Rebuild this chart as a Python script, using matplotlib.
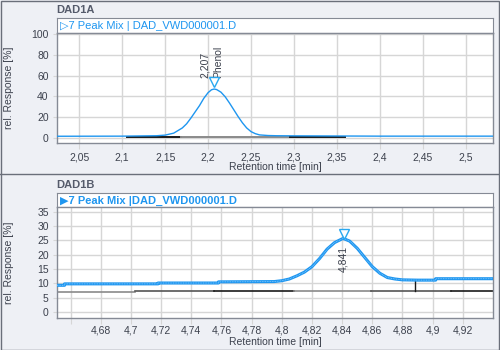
import numpy as np
import matplotlib
matplotlib.use("Agg")
import matplotlib.pyplot as plt
from matplotlib.patches import Rectangle
from matplotlib.lines import Line2D

# DAD1A trace (retention time [min], rel. response [%])
t_a = [2.024, 2.10, 2.14, 2.15, 2.16, 2.17, 2.175, 2.18, 2.185, 2.19, 2.195, 2.20,
       2.204, 2.207, 2.21, 2.215, 2.22, 2.225, 2.23, 2.235, 2.24, 2.245, 2.25,
       2.255, 2.26, 2.27, 2.28, 2.30, 2.40, 2.532]
r_a = [1.5, 1.6, 2.0, 2.6, 4.5, 9.5, 13.5, 19.0, 25.0, 31.0, 38.0, 43.5,
       46.3, 47.0, 46.5, 44.0, 39.5, 33.5, 27.0, 20.5, 14.5, 9.5, 6.0,
       4.0, 2.8, 2.2, 2.0, 1.9, 1.6, 1.6]
# integration baseline pieces: start, end, level, colour
base_a = [(2.105, 2.169, 1.1, "#1a1a1a"),
          (2.169, 2.296, 1.1, "#8a8a8a"),
          (2.296, 2.360, 1.1, "#1a1a1a")]
peak_a = 2.207
peak_a_name = "Phenol"
xticks_a = [2.05, 2.1, 2.15, 2.2, 2.25, 2.3, 2.35, 2.4, 2.45, 2.5]
xlabels_a = ["2,05", "2,1", "2,15", "2,2", "2,25", "2,3", "2,35", "2,4", "2,45", "2,5"]
yticks_a = [0, 20, 40, 60, 80, 100]

# DAD1B trace
t_b = [4.651, 4.656, 4.656, 4.718, 4.718, 4.758, 4.758, 4.795, 4.800, 4.805,
       4.810, 4.815, 4.820, 4.825, 4.830, 4.835, 4.840, 4.841, 4.845, 4.850,
       4.855, 4.860, 4.865, 4.870, 4.875, 4.880, 4.890, 4.902, 4.902, 4.940]
r_b = [9.3, 9.3, 9.8, 9.8, 10.1, 10.1, 10.5, 10.6, 10.9, 11.5,
       12.6, 13.9, 15.8, 18.6, 21.9, 24.2, 25.5, 25.6, 24.7, 22.2,
       19.0, 15.8, 13.5, 12.0, 11.5, 11.2, 11.1, 11.1, 11.6, 11.6]
base_b = [(4.651, 4.703, 7.1, "#8a8a8a"),
          (4.703, 4.755, 7.15, "#555555"),
          (4.755, 4.808, 7.2, "#1a1a1a"),
          (4.808, 4.859, 7.2, "#8a8a8a"),
          (4.859, 4.912, 7.25, "#555555"),
          (4.912, 4.940, 7.3, "#1a1a1a")]
drop_b = (4.888, 7.2, 11.1)
peak_b = 4.841
xticks_b = [4.66, 4.68, 4.7, 4.72, 4.74, 4.76, 4.78, 4.8, 4.82, 4.84, 4.86, 4.88, 4.9, 4.92]
xlabels_b = ["", "4,68", "4,7", "4,72", "4,74", "4,76", "4,78", "4,8", "4,82", "4,84",
             "4,86", "4,88", "4,9", "4,92"]
yticks_b = [0, 5, 10, 15, 20, 25, 30, 35]

W, H = 500, 350
BG = "#eef0f5"
FRAME = "#858a95"
GRID = "#d6d6d6"
TXT = "#3c414d"
BLUE = "#1e96f0"

plt.rcParams["font.family"] = ["Liberation Sans", "DejaVu Sans"]

fig = plt.figure(figsize=(5, 3.5), dpi=100, facecolor=BG)


def box(x0, y0, x1, y1):
    # pixel box (top-left origin) -> figure fraction rect
    return [x0 / W, 1 - y1 / H, (x1 - x0) / W, (y1 - y0) / H]


def style(ax, xticks, xlabels, yticks, xpad):
    ax.set_facecolor("white")
    for s in ax.spines.values():
        s.set_color(FRAME)
        s.set_linewidth(1)
    ax.set_xticks(xticks)
    ax.set_xticklabels(xlabels)
    ax.set_yticks(yticks)
    ax.grid(True, color=GRID, linewidth=1)
    ax.set_axisbelow(True)
    ax.tick_params(axis="x", length=4, color=GRID, labelsize=7.5, labelcolor=TXT, pad=xpad)
    ax.tick_params(axis="y", length=3, color=GRID, labelsize=7.5, labelcolor=TXT, pad=3)
    ax.set_xlabel("Retention time [min]", fontsize=7.5, color=TXT)
    ax.set_ylabel("rel. Response [%]", fontsize=7.5, color=TXT)
    ax.xaxis.set_label_coords(0.5, -0.175)
    ax.yaxis.set_label_coords(-43 / 436, 0.5)


def header(y_top, y_bot, title, text, bold):
    fig.text(56 / W, 1 - (y_top - 8) / H, title, fontsize=8, fontweight="bold",
             color="#555b6b", va="center", ha="left")
    hb = fig.add_axes(box(57, y_top, 493, y_bot))
    hb.set_xticks([])
    hb.set_yticks([])
    hb.set_facecolor("white")
    for s in hb.spines.values():
        s.set_color(FRAME)
    hb.text(0.008, 0.45, text, transform=hb.transAxes, fontsize=8, color=BLUE,
            fontweight="bold" if bold else "normal", va="center", ha="left",
            family=["Liberation Sans", "DejaVu Sans"])


# panel A
header(18, 33, "DAD1A", "\u25b77 Peak Mix | DAD_VWD000001.D", False)
ax1 = fig.add_axes(box(57, 33, 493, 143))
style(ax1, xticks_a, xlabels_a, yticks_a, 3)
ax1.set_xlim(2.024, 2.532)
ax1.set_ylim(-5, 101)
for x0, x1, lvl, c in base_a:
    ax1.plot([x0, x1], [lvl, lvl], color=c, lw=1.4, zorder=2)
ax1.plot(t_a, r_a, color=BLUE, lw=1, zorder=3)
top_a = max(r_a)
ax1.plot(peak_a, top_a + 6.5, marker="v", ms=7, mfc="white", mec="#29a8f0", mew=1, zorder=4)
ax1.text(peak_a - 0.011, top_a + 11, "2,207", rotation=90, fontsize=7.5, color=TXT,
         ha="center", va="bottom")
ax1.text(peak_a + 0.0045, top_a + 11, peak_a_name, rotation=90, fontsize=7.5, color=TXT,
         ha="center", va="bottom")

# panel B
header(193, 207, "DAD1B", "\u25b67 Peak Mix |DAD_VWD000001.D", True)
ax2 = fig.add_axes(box(57, 207, 493, 318))
style(ax2, xticks_b, xlabels_b, yticks_b, 1.5)
ax2.set_xlim(4.651, 4.940)
ax2.set_ylim(-2.1, 36.6)
for x0, x1, lvl, c in base_b:
    ax2.plot([x0, x1], [lvl, lvl], color=c, lw=1.2, zorder=2)
ax2.plot([drop_b[0], drop_b[0]], [drop_b[1], drop_b[2]], color="#1a1a1a", lw=1, zorder=2)
ax2.plot(t_b, r_b, color=BLUE, lw=2.2, zorder=3)
ax2.plot(t_b, r_b, color="#8fd0ff", lw=0.6, ls=(0, (1, 1)), zorder=3)
top_b = max(r_b)
ax2.plot(peak_b, top_b + 1.7, marker="v", ms=7, mfc="white", mec="#29a8f0", mew=1, zorder=4)
ax2.text(peak_b, top_b - 2.5, "4,841", rotation=90, fontsize=7.5, color=TXT,
         ha="center", va="top", zorder=5)

# outer frame and panel separator
fig.add_artist(Rectangle((0.5 / W, 0.5 / H), 498 / W, 349 / H, transform=fig.transFigure,
                         fill=False, edgecolor="#6a6f7a", lw=1))
fig.add_artist(Line2D([0, 498.5 / W], [1 - 174 / H, 1 - 174 / H], transform=fig.transFigure,
                      color="#6a6f7a", lw=1))

fig.savefig("out.png", dpi=100, facecolor=BG)
